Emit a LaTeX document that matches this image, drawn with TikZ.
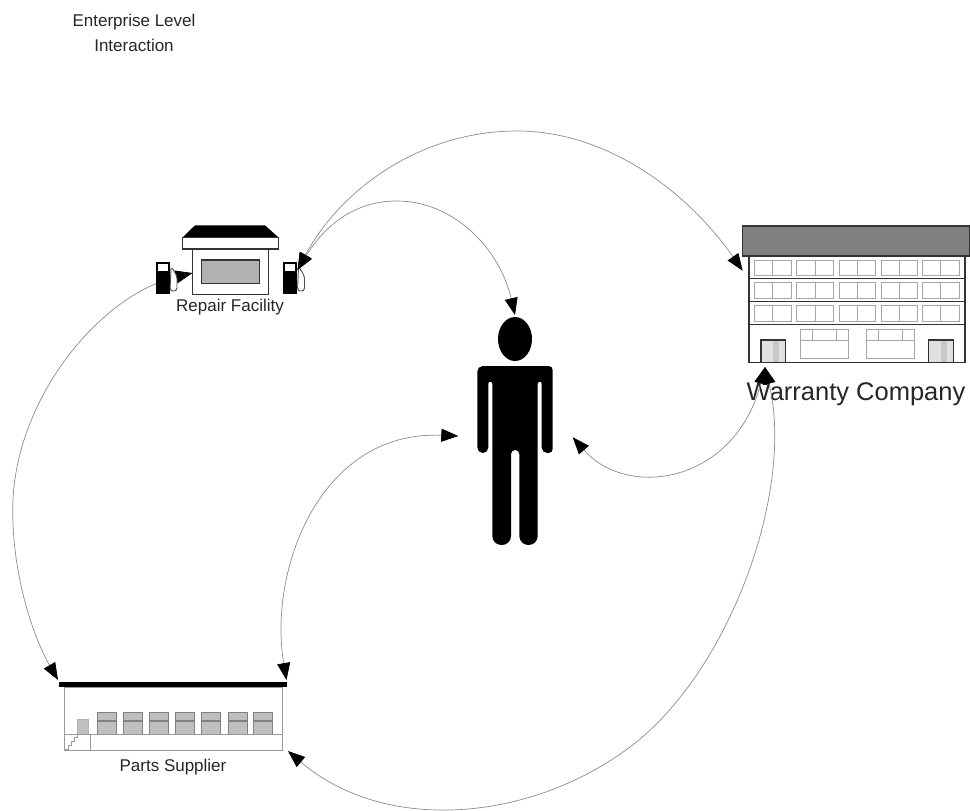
\documentclass[tikz,border=0pt]{standalone}
\usepackage{fontspec}
\setmainfont{Liberation Sans}
\usetikzlibrary{arrows.meta}
\tikzset{
    every node/.style={inner sep=0pt, text=black!85},
    link/.style={draw=black!45, line width=0.7pt, {Triangle[length=17pt,width=13pt,color=black]}-{Triangle[length=17pt,width=13pt,color=black]}},
    wall/.style={draw=black!80, line width=1.3pt},
    glass/.style={draw=black!35, line width=1pt},
    pump/.style={fill=black, draw=black},
    hose/.style={draw=black!70, fill=white, line width=0.9pt, rounded corners=3pt}
}

\begin{document}
\begin{tikzpicture}[x=1pt,y=-1pt]
	\useasboundingbox (0,0) rectangle (970,811);

	\node (title) [font=\fontsize{17}{25}\selectfont, align=center] at (134,33) {Enterprise Level\\Interaction};
	\node (repair) [font=\fontsize{17}{20}\selectfont] at (230,307) {Repair Facility};
	\node (warranty) [font=\fontsize{25.5}{28}\selectfont] at (856,394) {Warranty Company};
	\node (parts) [font=\fontsize{17}{20}\selectfont] at (173,767) {Parts Supplier};

	% link ends
	\coordinate (repairL) at (192.5,273);
	\coordinate (repairR) at (297.5,270);
	\coordinate (warrantyT) at (742.7,270.7);
	\coordinate (warrantyB) at (765,367);
	\coordinate (personT) at (515,315);
	\coordinate (personL) at (458.3,436);
	\coordinate (personR) at (572.7,437.3);
	\coordinate (partsL) at (58,680);
	\coordinate (partsR) at (286.5,680);
	\coordinate (partsB) at (288,751);

	\draw[link] (repairL) .. controls (100,295) and (12.7,400) .. (12.7,510) .. controls (12.7,580) and (35,640) .. (partsL);

	% repair facility
	\fill[black] (182.7,237.3) -- (195,225.3) -- (265,225.3) -- (278.3,237.3) -- cycle;
	\draw[wall, fill=white] (182.7,237.3) rectangle (278.3,249);
	\draw[wall] (192.3,249) -- (192.3,294.3) -- (268.3,294.3) -- (268.3,249);
	\draw[wall, fill=black!30] (201.7,260) rectangle (259.3,283.3);
	\foreach \px in {156,283.5} {
		\draw[pump] (\px,262) rectangle +(13,31.5);
		\fill[white] (\px+1.5,263.5) rectangle +(10,7.5);
		\draw[hose] (\px+15,268) -- (\px+14,291) -- (\px+21,291) -- (\px+21,276) -- (\px+16,268);
	}

	% warranty company
	\foreach \wx in {754.3,796.7,839,881,922.3} {
		\foreach \wy/\wh in {260/15.7,282.7/15.7,305/16.5} {
			\draw[glass] (\wx,\wy) rectangle +(36.7,\wh);
			\draw[glass] (\wx+18.3,\wy) -- +(0,\wh);
		}
	}
	\foreach \bx in {800,866.3} {
		\draw[glass] (\bx,329) rectangle +(48,29.5);
		\draw[glass] (\bx,340) -- +(48,0);
		\draw[glass] (\bx+12.5,329) -- +(0,11);
		\draw[glass] (\bx+36,329) -- +(0,11);
	}
	\foreach \dx in {761,928.7} {
		\fill[black!12] (\dx,340) rectangle +(24.7,22);
		\fill[black!22] (\dx+12.3,340) rectangle +(6,22);
		\draw[wall] (\dx,362) -- (\dx,340) -- +(24.7,0) -- +(24.7,22);
	}
	\draw[wall] (749,256) rectangle (965,362.3);
	\foreach \fy in {278.3,301.7,324.3}
		\draw[wall] (749,\fy) -- (965,\fy);
	\draw[wall, fill=black!50] (742.3,226) rectangle (970,256);

	% parts supplier
	\foreach \dockx in {97.3,123.2,149.2,175.2,201.3,228,253.5} {
		\fill[black!25] (\dockx,712.7) rectangle +(19.3,22);
		\draw[black!50, line width=0.8pt] (\dockx,712.7) rectangle +(19.3,22);
		\fill[black!50] (\dockx,720) rectangle +(19.3,2);
	}
	\draw[black!30, line width=0.9pt, fill=black!25] (77.7,719) rectangle (88.3,734.3);
	\draw[black!40, line width=0.9pt] (64,687) rectangle (282.3,750.7);
	\draw[black!40, line width=0.9pt] (64,734.3) -- (282.3,734.3);
	\draw[black!40, line width=0.9pt] (90.7,734.3) -- (90.7,750.7);
	\draw[black!40, line width=0.7pt] (65,749) -- (68,749) -- (68,745) -- (71,745) -- (71,741) -- (74,741) -- (74,737) -- (77,737) -- (77,734.3);
	\fill[black] (59.3,681.7) rectangle (287.3,687.3);

	% person
	\fill[black] (515,339) ellipse [x radius=17, y radius=22];
	\fill[black] (477.3,453) [rounded corners=5.5pt] -- (477.3,366) [rounded corners=4pt] -- (552.7,366) -- (552.7,453) [rounded corners=5.5pt] -- (541.7,453) [rounded corners=2pt] -- (541.7,381.7) -- (537.7,381.7) [rounded corners=9pt] -- (537.7,545) -- (519.3,545) [rounded corners=4pt] -- (519.3,450) -- (511,450) [rounded corners=9pt] -- (511,545) -- (492.3,545) [rounded corners=2pt] -- (492.3,381.7) -- (488.3,381.7) [rounded corners=5.5pt] -- (488.3,453) -- cycle;

	% links
	\draw[link] (repairR) .. controls (340,190) and (420,131) .. (517,131) .. controls (610,131) and (690,195) .. (warrantyT);
	\draw[link] (repairR) .. controls (325,225) and (355,201) .. (396.7,201) .. controls (455,201) and (500,250) .. (personT);
	\draw[link] (partsR) .. controls (268,570) and (320,430) .. (personL);
	\draw[link] (personR) .. controls (628,500) and (735,483) .. (warrantyB);
	\draw[link] (warrantyB) .. controls (795,490) and (730,672) .. (630,747) .. controls (530,822) and (385,834) .. (partsB);
\end{tikzpicture}
\end{document}
